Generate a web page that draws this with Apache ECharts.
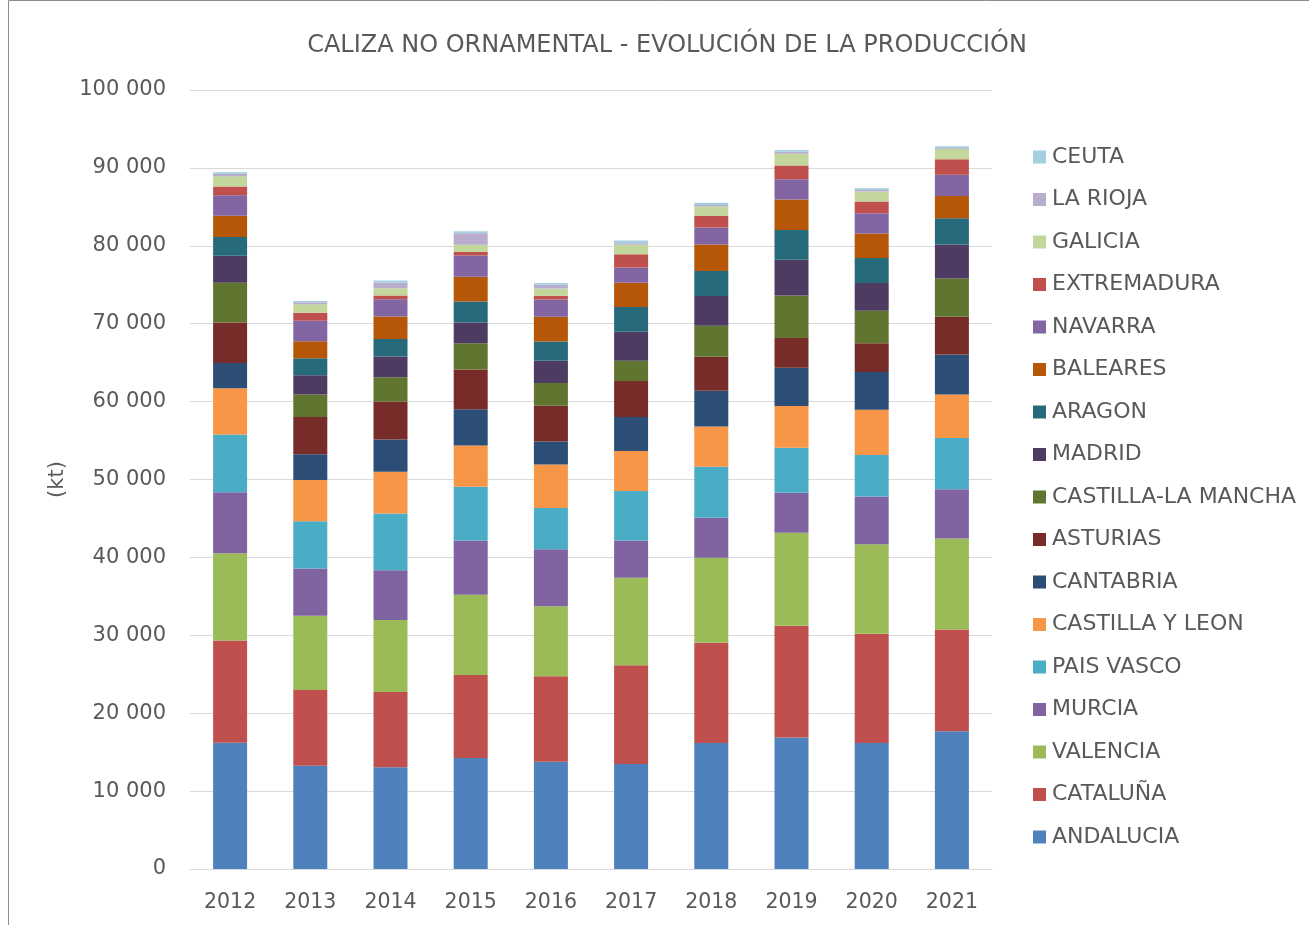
<!DOCTYPE html>
<html>
<head>
<meta charset="utf-8">
<script src="https://cdn.jsdelivr.net/npm/echarts@6/dist/echarts.min.js"></script>
<style>
html, body { margin: 0; padding: 0; background: #fff; }
#chart { width: 1309px; height: 925px; }
</style>
</head>
<body>
<div id="chart"></div>
<script>
// años
var years = ['2012', '2013', '2014', '2015', '2016', '2017', '2018', '2019', '2020', '2021'];

// producción por comunidad (kt)
var andalucia   = [16200, 13250, 13070, 14250, 13780, 13490, 16160, 16890, 16160, 17680];
var cataluna    = [13130, 9720, 9660, 10660, 10950, 12660, 12890, 14350, 14040, 13080];
var valencia    = [11190, 9540, 9250, 10310, 9010, 11250, 10900, 11920, 11500, 11680];
var murcia      = [7830, 6070, 6360, 6950, 7300, 4770, 5150, 5150, 6110, 6300];
var paisVasco   = [7420, 6070, 7300, 6890, 5300, 6360, 6540, 5750, 5330, 6600];
var castillaLeon = [5950, 5300, 5360, 5300, 5590, 5120, 5150, 5390, 5810, 5570];
var cantabria   = [3240, 3300, 4120, 4650, 2940, 4360, 4600, 4900, 4840, 5150];
var asturias    = [5180, 4770, 4890, 5120, 4590, 4650, 4360, 3810, 3690, 4840];
var castillaMancha = [5120, 2890, 3120, 3360, 2940, 2590, 4000, 5450, 4180, 4900];
var madrid      = [3470, 2470, 2650, 2650, 2830, 3710, 3810, 4600, 3570, 4360];
var aragon      = [2410, 2180, 2240, 2710, 2470, 3180, 3210, 3810, 3210, 3390];
var baleares    = [2710, 2180, 2890, 3180, 3180, 3120, 3390, 3930, 3150, 2850];
var navarra     = [2650, 2650, 2240, 2710, 2240, 1940, 2180, 2600, 2600, 2720];
var extremadura = [1120, 1000, 470, 470, 470, 1710, 1510, 1760, 1510, 2000];
var galicia     = [1300, 1120, 940, 940, 940, 1240, 1210, 1510, 1270, 1330];
var laRioja     = [300, 250, 710, 1470, 470, 180, 180, 240, 180, 100];
var ceuta       = [230, 160, 290, 240, 240, 350, 300, 240, 240, 240];

var names = ['ANDALUCIA', 'CATALUÑA', 'VALENCIA', 'MURCIA', 'PAIS VASCO', 'CASTILLA Y LEON',
	'CANTABRIA', 'ASTURIAS', 'CASTILLA-LA MANCHA', 'MADRID', 'ARAGON', 'BALEARES',
	'NAVARRA', 'EXTREMADURA', 'GALICIA', 'LA RIOJA', 'CEUTA'];
var values = [andalucia, cataluna, valencia, murcia, paisVasco, castillaLeon, cantabria, asturias,
	castillaMancha, madrid, aragon, baleares, navarra, extremadura, galicia, laRioja, ceuta];
var colors = ['#4F81BD', '#C0504D', '#9BBB59', '#8064A2', '#4BACC6', '#F79646', '#2C4D75', '#772C2A',
	'#5F7530', '#4D3B62', '#276A7C', '#B65708', '#8166A3', '#C0504D', '#C3D69B', '#B9ADCE', '#A5CFDF'];

var font = 'DejaVu Sans';

var series = [];
for (var i = 0; i < names.length; i++) {
	series.push({
		name: names[i],
		type: 'bar',
		stack: 'total',
		barWidth: 34,
		data: values[i],
		itemStyle: { color: colors[i] }
	});
}

var chart = echarts.init(document.getElementById('chart'));

var option = {
	animation: false,
	backgroundColor: '#fff',
	color: colors,
	title: {
		text: 'CALIZA NO ORNAMENTAL - EVOLUCIÓN DE LA PRODUCCIÓN',
		left: 662,
		textAlign: 'center',
		top: 29,
		textStyle: { fontFamily: font, fontSize: 24, fontWeight: 'normal', color: '#595959' }
	},
	legend: {
		orient: 'vertical',
		left: 1033,
		top: 146,
		padding: 0,
		itemWidth: 13,
		itemHeight: 13,
		itemGap: 20.5,
		icon: 'rect',
		data: names.slice().reverse(),
		textStyle: { fontFamily: font, fontSize: 22, color: '#595959', padding: [0, 0, 0, 1] }
	},
	grid: { left: 190, right: 317, top: 90, bottom: 56 },
	xAxis: {
		type: 'category',
		data: years,
		axisLine: { lineStyle: { color: '#D9D9D9', width: 1 } },
		axisTick: { show: false },
		axisLabel: { margin: 23, fontFamily: font, fontSize: 20.5, color: '#595959' }
	},
	yAxis: {
		type: 'value',
		min: 0,
		max: 100000,
		interval: 10000,
		name: '(kt)',
		nameLocation: 'middle',
		nameRotate: 90,
		nameGap: 122,
		nameTextStyle: { fontFamily: font, fontSize: 21, color: '#595959' },
		axisLine: { show: false },
		axisTick: { show: false },
		splitLine: { lineStyle: { color: '#D9D9D9', width: 1 } },
		axisLabel: {
			margin: 24,
			fontFamily: font,
			fontSize: 21,
			color: '#595959',
			formatter: function (v) {
				return String(v).replace(/\B(?=(\d{3})+(?!\d))/g, ' ');
			}
		}
	},
	// marco exterior
	graphic: [{
		type: 'rect',
		shape: { x: 8.5, y: 0.5, width: 1400, height: 1000 },
		style: { fill: 'none', stroke: '#8C8C8C', lineWidth: 1 },
		silent: true
	}],
	series: series
};

chart.setOption(option);
</script>
</body>
</html>
